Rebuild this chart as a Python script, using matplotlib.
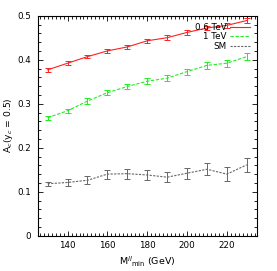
import matplotlib
matplotlib.use('Agg')
import matplotlib.pyplot as plt
from matplotlib.lines import Line2D
from matplotlib.ticker import MultipleLocator

mll = [130, 140, 150, 160, 170, 180, 190, 200, 210, 220, 230]

ac_06 = [0.377, 0.392, 0.407, 0.420, 0.429, 0.443, 0.450, 0.462, 0.472, 0.478, 0.489]
err_06 = [0.004, 0.004, 0.004, 0.004, 0.004, 0.004, 0.005, 0.005, 0.005, 0.005, 0.006]

ac_1 = [0.268, 0.284, 0.306, 0.325, 0.339, 0.351, 0.358, 0.373, 0.387, 0.392, 0.407]
err_1 = [0.005, 0.005, 0.006, 0.006, 0.006, 0.007, 0.007, 0.007, 0.007, 0.008, 0.008]

ac_sm = [0.118, 0.121, 0.126, 0.140, 0.141, 0.138, 0.133, 0.142, 0.151, 0.140, 0.161]
err_sm = [0.005, 0.007, 0.009, 0.010, 0.011, 0.011, 0.012, 0.013, 0.014, 0.015, 0.016]

labels = ['0.6 TeV', '1 TeV', 'SM']
colors = ['#ff2020', '#20ee20', '#666666']
styles = ['-', (0, (3, 1.5)), (0, (2, 1.2))]

fs = 6.3
fig = plt.figure(figsize=(2.77, 2.71), dpi=100)
ax = fig.add_axes([37.7 / 277, 1 - 235.7 / 271, 219 / 277, 220 / 271])

for y, e, c, ls in zip([ac_06, ac_1, ac_sm], [err_06, err_1, err_sm], colors, styles):
    ax.errorbar(mll, y, yerr=e, color=c, ls=ls, lw=0.8, capsize=2,
                elinewidth=0.7, capthick=0.7)

handles = [Line2D([], [], color=c, ls=ls, lw=0.8) for c, ls in zip(colors, styles)]
leg = ax.legend(handles, labels, loc='upper right', frameon=False, markerfirst=False,
                fontsize=fs, handlelength=2.2, handletextpad=0.4, labelspacing=0.05,
                borderaxespad=0.4)

ax.set_xlim(125, 235)
ax.set_ylim(0, 0.5)
ax.xaxis.set_major_locator(MultipleLocator(20))
ax.xaxis.set_minor_locator(MultipleLocator(2))
ax.yaxis.set_minor_locator(MultipleLocator(0.02))
ax.set_yticks([0, 0.1, 0.2, 0.3, 0.4, 0.5])
ax.set_yticklabels(['0', '0.1', '0.2', '0.3', '0.4', '0.5'])
ax.tick_params(which='both', direction='in', top=True, right=True, labelsize=fs, width=0.6)
ax.tick_params(which='major', length=3.5)
ax.tick_params(which='minor', length=2)
ax.tick_params(axis='y', pad=5)
ax.tick_params(axis='x', pad=4)
for s in ax.spines.values():
    s.set_linewidth(0.8)

ax.set_xlabel(r'M$^{ll}$$_{\rm min}$ (GeV)', fontsize=fs + 0.5, labelpad=3)
ax.set_ylabel(r'A$_c$(y$_c$ = 0.5)', fontsize=fs + 0.3, labelpad=1)

fig.savefig('out.png', dpi=100)
